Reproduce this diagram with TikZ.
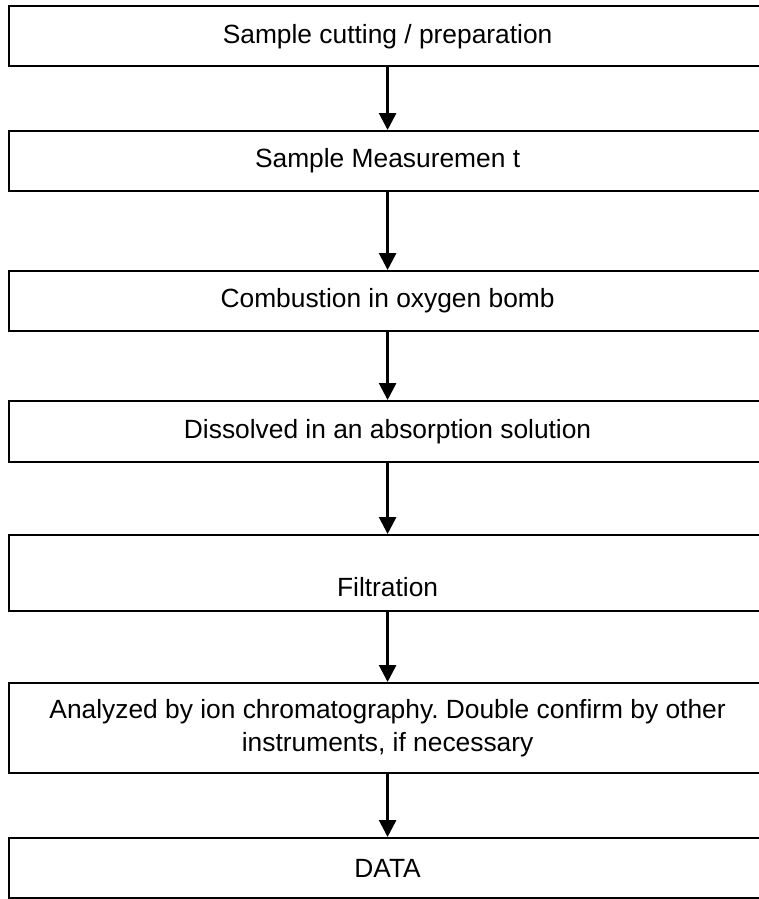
\documentclass[tikz,border=0pt]{standalone}
\usepackage{fontspec}
\setmainfont{Liberation Sans}
\usetikzlibrary{arrows.meta}
\frenchspacing

\tikzset{
stepbox/.style={draw,line width=0.04cm,minimum width=15.14cm,inner sep=0pt,align=center,
  font=\fontsize{15}{18.8}\selectfont},
flow/.style={line width=0.055cm,-{Triangle[width=0.34cm,length=0.34cm]}}
}

\begin{document}
\begin{tikzpicture}[x=0.02cm,y=-0.02cm]
\useasboundingbox (0,0) rectangle (758,899);
\node[stepbox,minimum height=1.2cm] (b1) at (387.6,36.3) {Sample cutting / preparation};
\node[stepbox,minimum height=1.2cm] (b2) at (387.6,161) {Sample Measuremen t};
\node[stepbox,minimum height=1.2cm] (b3) at (387.6,301) {Combustion in oxygen bomb};
\node[stepbox,minimum height=1.22cm] (b4) at (387.6,431.5) {Dissolved in an absorption solution};
\node[stepbox,minimum height=1.52cm,text height=0.96cm] (b5) at (387.6,573) {Filtration};
\node[stepbox,minimum height=1.8cm] (b6) at (387.6,728) {Analyzed by ion chromatography. Double confirm by other\\instruments, if necessary};
\node[stepbox,minimum height=1.2cm] (b7) at (387.6,868) {DATA};
\foreach\a/\b in {1/2,2/3,3/4,4/5,5/6,6/7} {
\draw[flow] (b\a)--(b\b);}
\end{tikzpicture}
\end{document}
